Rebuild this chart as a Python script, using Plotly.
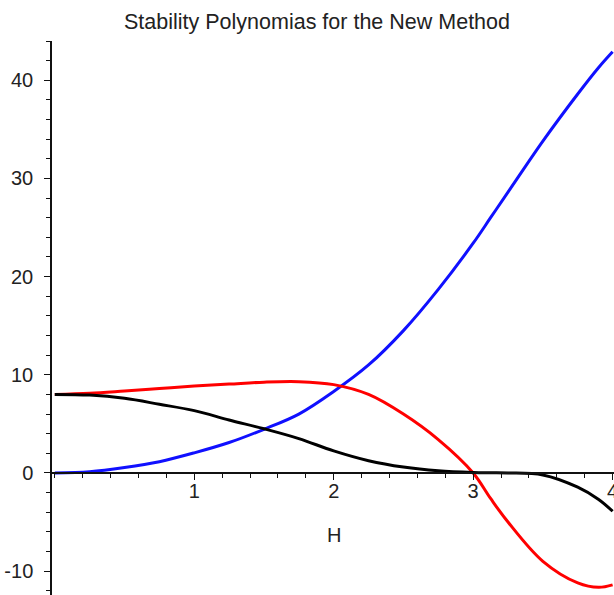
import plotly.graph_objects as go

# H values (sample points)
h = [0, 0.25, 0.5, 0.75, 1.0, 1.25, 1.5, 1.75, 2.0, 2.25, 2.5, 2.75, 3.0, 3.125, 3.25, 3.5, 3.75, 3.9, 4.0]

blue_vals = [0, 0.12, 0.55, 1.15, 2.05, 3.1, 4.45, 6.0, 8.3, 11.0, 14.5, 18.7, 23.4, 26.0, 28.6, 33.8, 38.6, 41.3, 42.9]
red_vals = [8.0, 8.12, 8.35, 8.6, 8.85, 9.05, 9.25, 9.3, 9.0, 8.0, 6.0, 3.4, 0.0, -2.6, -5.0, -9.0, -11.2, -11.65, -11.4]
black_vals = [8.0, 7.93, 7.6, 7.0, 6.35, 5.4, 4.5, 3.5, 2.25, 1.25, 0.6, 0.22, 0.05, 0.02, 0.0, -0.2, -1.45, -2.7, -3.9]

x_ticks = [1, 2, 3, 4]
y_ticks = [-10, 0, 10, 20, 30, 40]
title_text = "Stability Polynomias for the New Method"
x_label = "H"

Y_MIN, Y_MAX = -12.43, 44
X_MIN, X_MAX = -0.02, 4.01

fig = go.Figure()
fig.add_trace(go.Scatter(x=h, y=blue_vals, mode="lines", line=dict(color="#1010ff", width=3, shape="spline")))
fig.add_trace(go.Scatter(x=h, y=red_vals, mode="lines", line=dict(color="#ff0000", width=3, shape="spline")))
fig.add_trace(go.Scatter(x=h, y=black_vals, mode="lines", line=dict(color="#000000", width=3, shape="spline")))

font = dict(family="Liberation Sans, Arial, sans-serif", size=20, color="#222222")

zero_pos = (0 - Y_MIN) / (Y_MAX - Y_MIN)

fig.update_layout(
    width=614, height=595,
    margin=dict(l=52, r=0, t=41, b=0, autoexpand=False),
    paper_bgcolor="white", plot_bgcolor="white",
    showlegend=False,
    font=font,
    title=dict(text=title_text, x=317/614, xref="container", xanchor="center",
               y=1 - 21/595, yref="container", yanchor="middle", automargin=False,
               font=dict(family="Liberation Sans, Arial, sans-serif", size=21.5, color="#222222")),
    xaxis=dict(range=[X_MIN, X_MAX], anchor="free", position=zero_pos, automargin=False,
               showline=True, linecolor="#111111", linewidth=1.5,
               showgrid=False, zeroline=False,
               tickvals=x_ticks, ticktext=[str(v) for v in x_ticks],
               ticks="outside", ticklen=6, tickwidth=1.2, tickcolor="#111111",
               ticklabelstandoff=-6, ticklabeloverflow="allow",
               minor=dict(dtick=0.2, ticks="outside", ticklen=4, tickwidth=1, tickcolor="#111111", showgrid=False),
               tickfont=font),
    yaxis=dict(range=[Y_MIN, Y_MAX], automargin=False,
               showline=True, linecolor="#111111", linewidth=1.5,
               showgrid=False, zeroline=False,
               tickvals=y_ticks, ticktext=[str(v) for v in y_ticks],
               ticks="outside", ticklen=6, tickwidth=1.2, tickcolor="#111111",
               ticklabelstandoff=7, ticklabeloverflow="allow",
               minor=dict(dtick=2, ticks="outside", ticklen=4, tickwidth=1, tickcolor="#111111", showgrid=False),
               tickfont=font),
)

fig.add_annotation(x=2, y=-6.3, xref="x", yref="y", text=x_label, showarrow=False,
                   font=font, xanchor="center", yanchor="middle")

fig.write_html("out.html", config={"displayModeBar": False},
               post_script="document.body.style.margin='0';document.body.style.overflow='hidden';")
